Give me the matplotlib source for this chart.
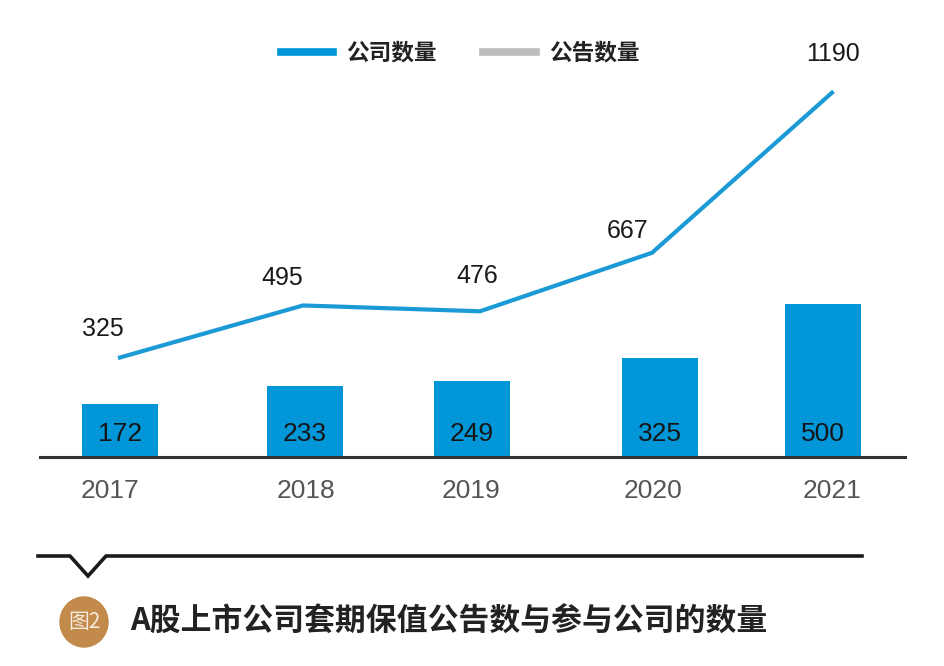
import matplotlib
matplotlib.use("Agg")
import matplotlib.pyplot as plt
from matplotlib.lines import Line2D
from matplotlib.patches import Ellipse

years = ["2017", "2018", "2019", "2020", "2021"]
companies = [172, 233, 249, 325, 500]        # 公司数量 (bars)
announcements = [325, 495, 476, 667, 1190]   # 公告数量 (line)

bar_pos = [0.0, 1.85, 3.52, 5.40, 7.03]
line_pos = [0.0, 1.83, 3.60, 5.32, 7.12]
year_pos = [-0.10, 1.86, 3.51, 5.33, 7.12]
line_label_offsets = [(-17, 28), (-21, 27), (-3, 35), (-24, 22), (1, 39)]

BLUE = "#0096d8"
LINE_BLUE = "#1b9ad6"
GRAY = "#bdbdbd"
CJK = ["Noto Sans CJK SC", "DejaVu Sans"]
NUM = ["Liberation Sans", "DejaVu Sans"]

W, H = 945, 666
fig = plt.figure(figsize=(W / 100, H / 100), dpi=100)
fig.patch.set_facecolor("white")

# main axes: pixel box x 40..905, y 59..457
ax = fig.add_axes([40 / W, (H - 457) / H, (905 - 40) / W, (457 - 59) / H])
ax.set_xlim(-0.8, 7.85)
ax.set_ylim(0, 1300)

ax.bar(bar_pos, companies, width=0.76, color=BLUE, zorder=2)
ax.plot(line_pos, announcements, color=LINE_BLUE, lw=3, zorder=3,
        solid_joinstyle="miter")

for x, v in zip(bar_pos, companies):
    ax.annotate(str(v), (x, 0), xytext=(0, 23), textcoords="offset pixels",
                ha="center", va="center", fontsize=19, color="#161616",
                family=NUM)
for x, v, (dx, dy) in zip(line_pos, announcements, line_label_offsets):
    ax.annotate(str(v), (x, v), xytext=(dx, dy), textcoords="offset pixels",
                ha="center", va="center", fontsize=18, color="#1a1a1a",
                family=NUM)

for s in ["top", "right", "left"]:
    ax.spines[s].set_visible(False)
ax.spines["bottom"].set_color("#333333")
ax.spines["bottom"].set_linewidth(2.2)
ax.set_yticks([])
ax.set_xticks(year_pos)
ax.set_xticklabels(years, fontsize=19, color="#555555", family=NUM)
ax.tick_params(axis="x", length=0, pad=16)

# legend
handles = [Line2D([], [], color=BLUE, lw=5.5),
           Line2D([], [], color=GRAY, lw=5.5)]
leg = fig.legend(handles, ["公司数量", "公告数量"], ncol=2,
                 loc="center left", bbox_to_anchor=(261 / W, 1 - 53 / H),
                 frameon=False, handlelength=2.3, handletextpad=0.58,
                 columnspacing=2.05,
                 prop={"family": CJK, "weight": "bold", "size": 16.3})
for t in leg.get_texts():
    t.set_color("#222222")

# overlay decoration in pixel coordinates
ov = fig.add_axes([0, 0, 1, 1], facecolor="none")
ov.set_xlim(0, W)
ov.set_ylim(H, 0)
ov.axis("off")
ov.plot([38, 70, 88, 106, 862], [556, 556, 576, 556, 556],
        color="#1a1a1a", lw=2.6, solid_joinstyle="miter")
ov.add_patch(Ellipse((84, 622), 48, 50, color="#c28b4c"))
ov.text(84, 622, "图2", ha="center", va="center", fontsize=15,
        color="#f6eadc", family=CJK, weight="light")
ov.text(130, 622, "A股上市公司套期保值公告数与参与公司的数量", ha="left",
        va="center", fontsize=22.2, color="#222222", family=CJK, weight="bold")

fig.savefig("out.png", dpi=100)
